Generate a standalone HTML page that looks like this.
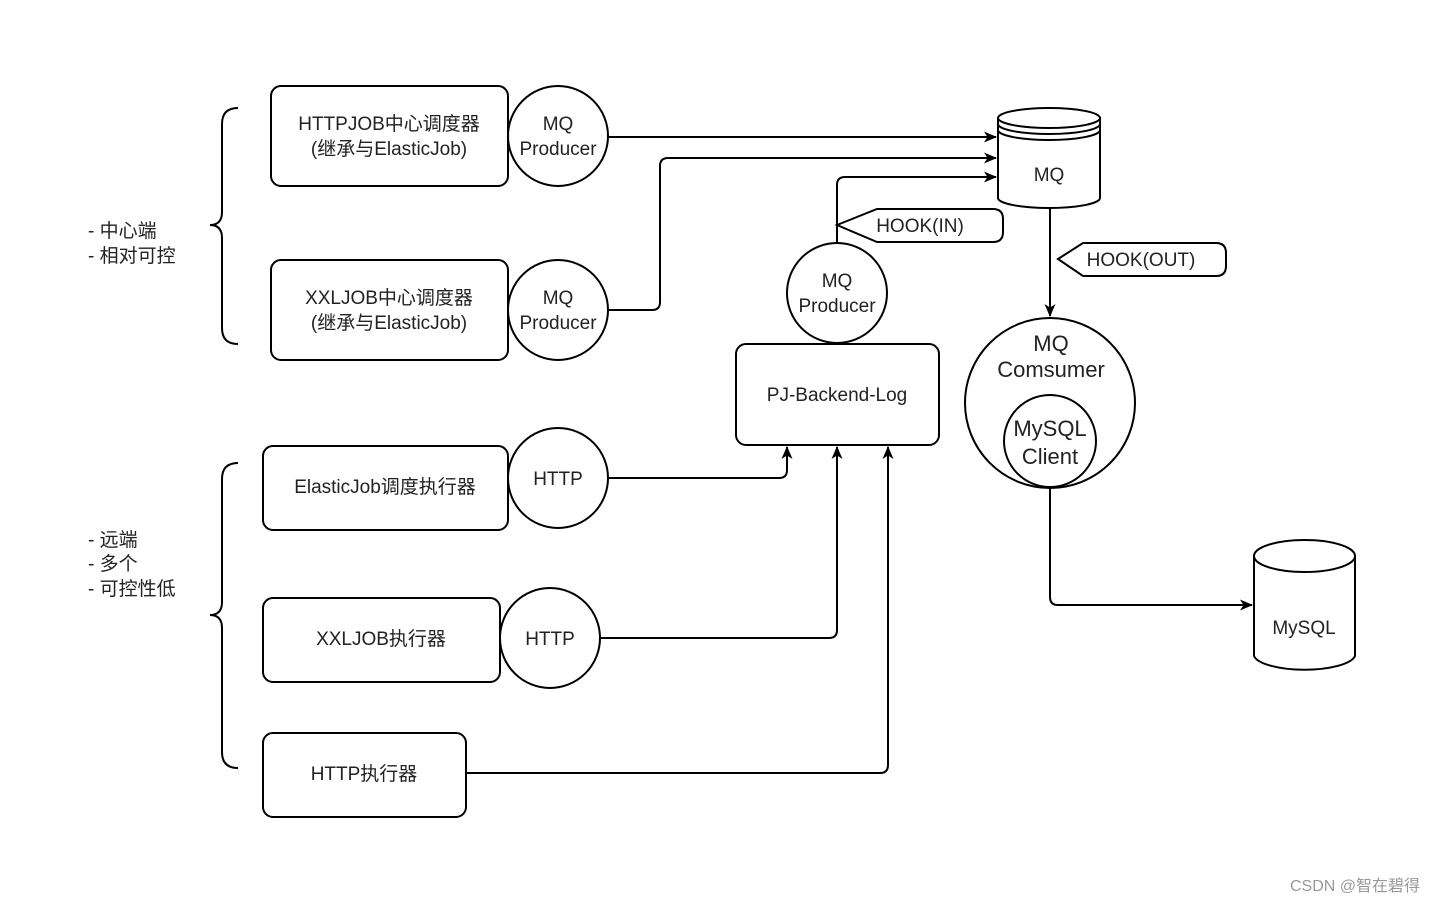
<!DOCTYPE html>
<html><head><meta charset="utf-8"><style>
html,body{margin:0;padding:0;background:#fff;}
text{font-family:"Liberation Sans","Noto Sans CJK SC",sans-serif;fill:#222;}
</style></head><body>
<svg width="1440" height="903" viewBox="0 0 1440 903" xmlns="http://www.w3.org/2000/svg">
<defs><marker id="a" markerWidth="13" markerHeight="11" refX="12" refY="5.5" orient="auto" markerUnits="userSpaceOnUse"><path d="M0,0 L13,5.5 L0,11 L3.5,5.5 Z" fill="#000"/></marker></defs>
<g fill="none" stroke="#000" stroke-width="2">
<path d="M238,108 Q222,108 222,124 L222,212 Q222,225 210,225 Q222,225 222,238 L222,328 Q222,344 238,344"/>
<path d="M238,463 Q222,463 222,479 L222,602 Q222,615 210,615 Q222,615 222,628 L222,752 Q222,768 238,768"/>
<rect x="271" y="86" width="237" height="100" rx="10"/>
<rect x="271" y="260" width="237" height="100" rx="10"/>
<rect x="263" y="446" width="245" height="84" rx="10"/>
<rect x="263" y="598" width="237" height="84" rx="10"/>
<rect x="263" y="733" width="203" height="84" rx="10"/>
<rect x="736" y="344" width="203" height="101" rx="10"/>
<circle cx="558" cy="136" r="50" fill="#fff"/>
<circle cx="558" cy="310" r="50" fill="#fff"/>
<circle cx="558" cy="478" r="50" fill="#fff"/>
<circle cx="550" cy="638" r="50" fill="#fff"/>
<circle cx="837" cy="293" r="50"/>
<circle cx="1050" cy="403" r="85"/>
<circle cx="1050" cy="441" r="46"/>
<path d="M998,118 L998,198 A51,10 0 0 0 1100,198 L1100,118"/>
<ellipse cx="1049" cy="118" rx="51" ry="10"/>
<path d="M998,124 A51,10 0 0 0 1100,124 M998,130 A51,10 0 0 0 1100,130"/>
<path d="M1254,556 L1254,656 A51,16 0 0 0 1355,656 L1355,556"/>
<ellipse cx="1304.5" cy="556" rx="50.5" ry="16"/>
<path d="M837,225 L877,209 L993,209 Q1003,209 1003,219 L1003,232 Q1003,242 993,242 L877,242 Z"/>
<path d="M1058,259 L1083,243 L1216,243 Q1226,243 1226,253 L1226,266 Q1226,276 1216,276 L1083,276 Z"/>
<path d="M608,137 L996,137" marker-end="url(#a)"/>
<path d="M608,310 L652,310 Q660,310 660,302 L660,166 Q660,158 668,158 L996,158" marker-end="url(#a)"/>
<path d="M837,243 L837,185 Q837,177 845,177 L996,177" marker-end="url(#a)"/>
<path d="M1050,208 L1050,316" marker-end="url(#a)"/>
<path d="M608,478 L779,478 Q787,478 787,470 L787,447" marker-end="url(#a)"/>
<path d="M600,638 L829,638 Q837,638 837,630 L837,447" marker-end="url(#a)"/>
<path d="M466,773 L880,773 Q888,773 888,765 L888,447" marker-end="url(#a)"/>
<path d="M1050,487 L1050,597 Q1050,605 1058,605 L1252,605" marker-end="url(#a)"/>
</g>
<g font-size="19" text-anchor="middle">
<text x="389" y="130">HTTPJOB中心调度器</text>
<text x="389" y="155">(继承与ElasticJob)</text>
<text x="389" y="304">XXLJOB中心调度器</text>
<text x="389" y="329">(继承与ElasticJob)</text>
<text x="385" y="493">ElasticJob调度执行器</text>
<text x="381" y="645">XXLJOB执行器</text>
<text x="364" y="780">HTTP执行器</text>
<text x="558" y="130">MQ</text><text x="558" y="155">Producer</text>
<text x="558" y="304">MQ</text><text x="558" y="329">Producer</text>
<text x="558" y="485">HTTP</text>
<text x="550" y="645">HTTP</text>
<text x="837" y="287">MQ</text><text x="837" y="312">Producer</text>
<text x="837" y="401">PJ-Backend-Log</text>
<text x="1049" y="181">MQ</text>
<text x="1304" y="634">MySQL</text>
<text x="920" y="232">HOOK(IN)</text>
<text x="1141" y="266">HOOK(OUT)</text>
</g>
<g font-size="22" text-anchor="middle">
<text x="1051" y="351">MQ</text><text x="1051" y="377">Comsumer</text>
<text x="1050" y="436">MySQL</text><text x="1050" y="464">Client</text>
</g>
<g font-size="19">
<text x="88" y="237">- 中心端</text>
<text x="88" y="262">- 相对可控</text>
<text x="88" y="546">- 远端</text>
<text x="88" y="570">- 多个</text>
<text x="88" y="595">- 可控性低</text>
</g>
<text x="1290" y="891" font-size="16" style="fill:#999">CSDN @智在碧得</text>
</svg>
</body></html>
